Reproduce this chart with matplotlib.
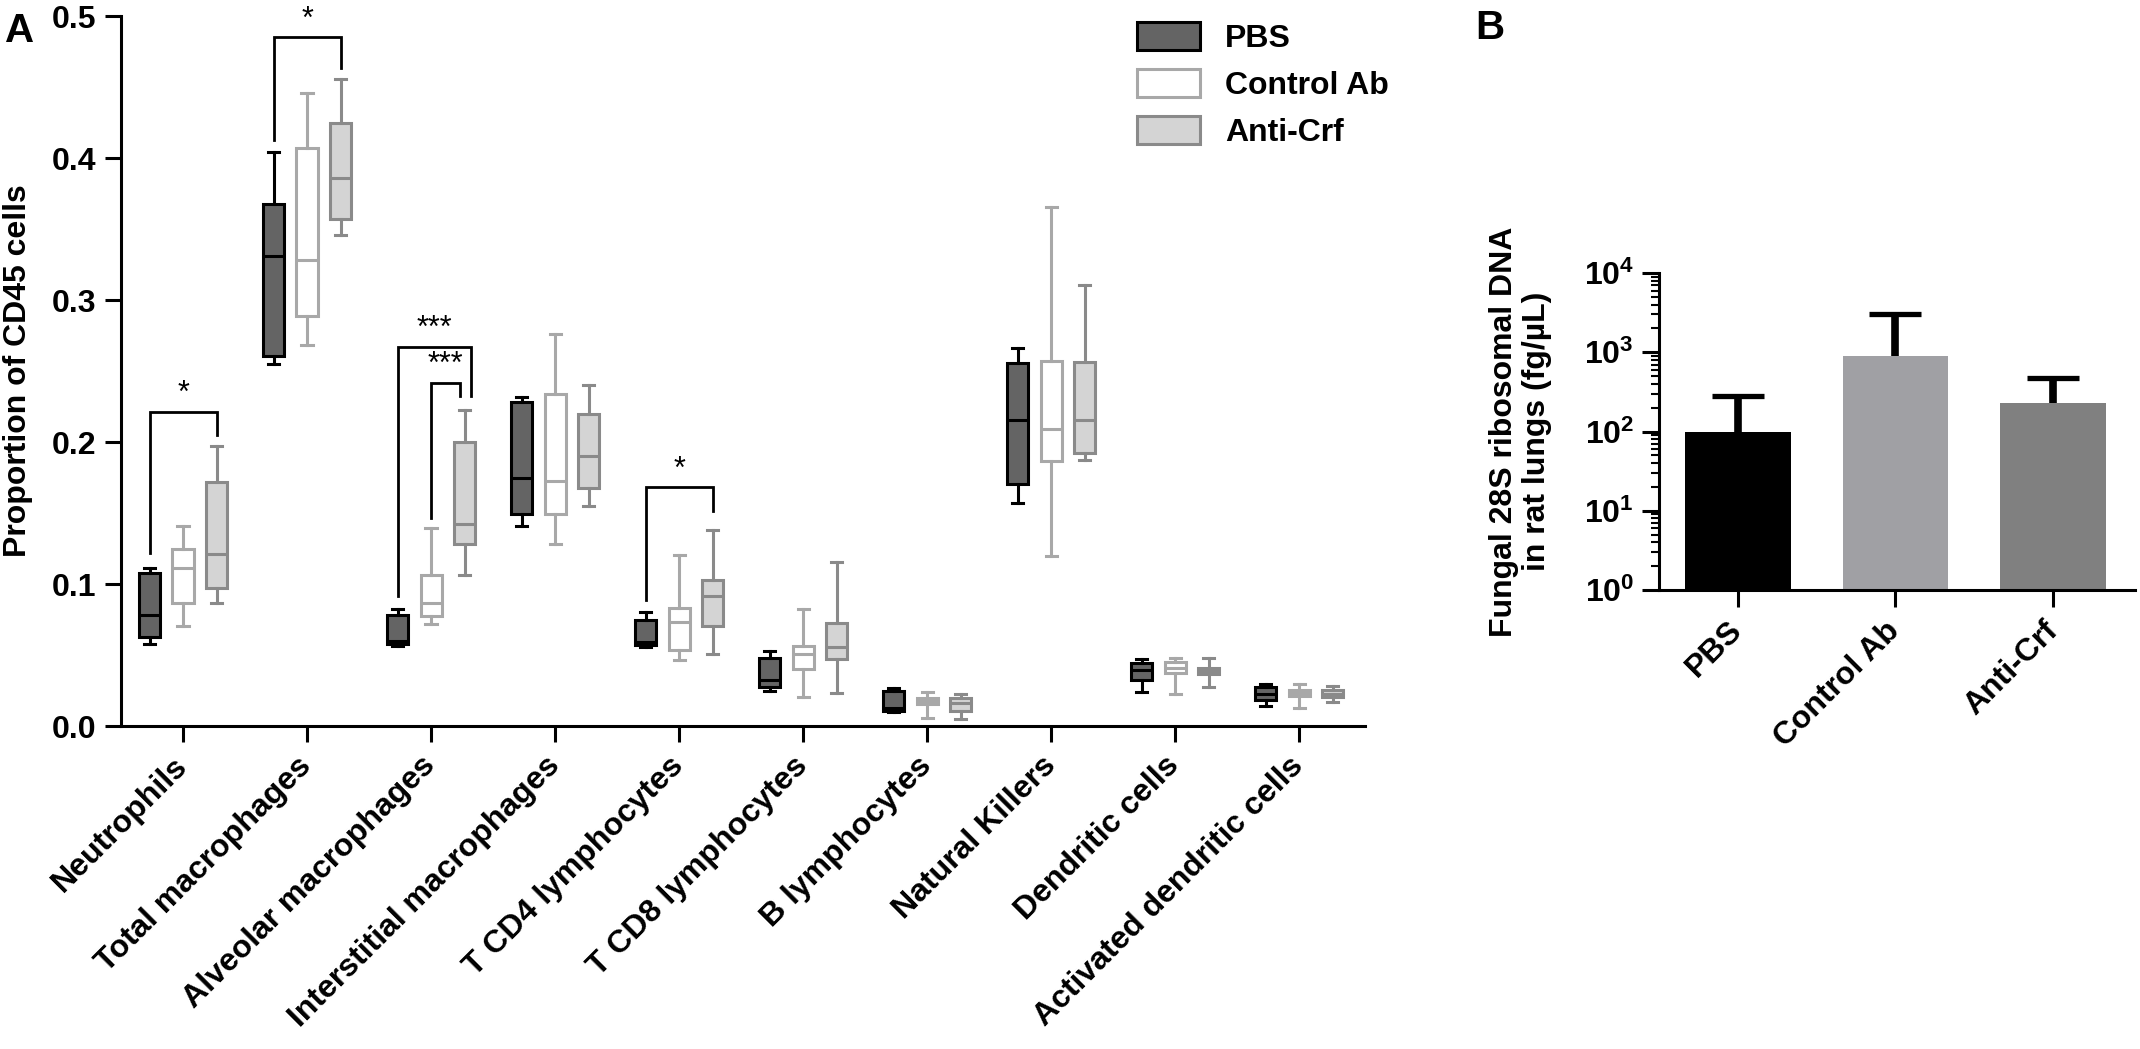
import matplotlib
matplotlib.use("Agg")
import matplotlib.pyplot as plt
from matplotlib.patches import Patch
from matplotlib.ticker import NullFormatter, LogLocator

plt.rcParams['font.family'] = ['Liberation Sans', 'DejaVu Sans']
plt.rcParams['font.weight'] = 'bold'
plt.rcParams['mathtext.fontset'] = 'custom'
plt.rcParams['mathtext.rm'] = 'Liberation Sans:bold'
plt.rcParams['mathtext.bf'] = 'Liberation Sans:bold'

# ---- panel A data: (whisker low, q1, median, q3, whisker high) ----
cell_types = ['Neutrophils', 'Total macrophages', 'Alveolar macrophages',
              'Interstitial macrophages', 'T CD4 lymphocytes', 'T CD8 lymphocytes',
              'B lymphocytes', 'Natural Killers', 'Dendritic cells',
              'Activated dendritic cells']
groups = ['PBS', 'Control Ab', 'Anti-Crf']

pbs_stats = [
    (0.058, 0.0625, 0.0783, 0.108, 0.111),
    (0.2547, 0.2604, 0.3313, 0.3676, 0.404),
    (0.0561, 0.0576, 0.060, 0.0783, 0.0827),
    (0.1411, 0.1495, 0.1747, 0.2285, 0.2317),
    (0.0556, 0.0570, 0.0593, 0.0746, 0.0806),
    (0.0249, 0.0277, 0.0324, 0.0481, 0.053),
    (0.0096, 0.0108, 0.0129, 0.0249, 0.0265),
    (0.157, 0.1705, 0.2156, 0.2555, 0.2665),
    (0.0239, 0.0321, 0.0394, 0.0446, 0.0472),
    (0.0141, 0.0183, 0.0228, 0.0272, 0.0293),
]
control_stats = [
    (0.0704, 0.0864, 0.1115, 0.1246, 0.1406),
    (0.2684, 0.2885, 0.3284, 0.4072, 0.4459),
    (0.0716, 0.0778, 0.0869, 0.1061, 0.1397),
    (0.1283, 0.1495, 0.1723, 0.2335, 0.2763),
    (0.0465, 0.0535, 0.0734, 0.0833, 0.1207),
    (0.0207, 0.0401, 0.0507, 0.0563, 0.0824),
    (0.0059, 0.0155, 0.0176, 0.0195, 0.0239),
    (0.1197, 0.1869, 0.2094, 0.2567, 0.3656),
    (0.0228, 0.037, 0.0411, 0.045, 0.0481),
    (0.0129, 0.0211, 0.0235, 0.0254, 0.0298),
]
anti_stats = [
    (0.0864, 0.0975, 0.121, 0.1715, 0.1975),
    (0.3455, 0.357, 0.3862, 0.4246, 0.4554),
    (0.1061, 0.1283, 0.1421, 0.1997, 0.2224),
    (0.1546, 0.1673, 0.190, 0.220, 0.240),
    (0.0507, 0.0707, 0.0915, 0.1028, 0.138),
    (0.023, 0.0472, 0.0559, 0.0723, 0.1153),
    (0.0049, 0.0106, 0.0164, 0.0195, 0.0225),
    (0.1875, 0.1925, 0.2158, 0.256, 0.3106),
    (0.0272, 0.0366, 0.039, 0.0411, 0.0476),
    (0.0167, 0.0204, 0.0228, 0.0254, 0.0282),
]

# significance brackets: (category, left group, right group, top, left end, right end, label)
brackets = [
    (0, 0, 2, 0.221, 0.122, 0.205, '*'),
    (1, 0, 2, 0.485, 0.413, 0.4635, '*'),
    (2, 0, 2, 0.267, 0.0913, 0.2322, '***'),
    (2, 1, 2, 0.2415, 0.1468, 0.2322, '***'),
    (4, 0, 2, 0.168, 0.0887, 0.1514, '*'),
]

# ---- panel B data ----
b_groups = ['PBS', 'Control Ab', 'Anti-Crf']
b_means = [100, 900, 228]
b_upper = [282, 3020, 480]
b_ticks = [1, 10, 100, 1000, 10000]
b_tick_labels = [r'$\mathbf{10^{0}}$', r'$\mathbf{10^{1}}$', r'$\mathbf{10^{2}}$',
                 r'$\mathbf{10^{3}}$', r'$\mathbf{10^{4}}$']

face_colors = ['#646464', '#ffffff', '#d4d4d4']
edge_colors = ['#000000', '#a8a8a8', '#8a8a8a']
b_colors = ['#000000', '#a0a0a4', '#808080']

W, H = 2140, 1049
fig = plt.figure(figsize=(W / 100, H / 100), dpi=100)

lw = 2.2
fs = 23

# ---------------- panel A ----------------
axA = fig.add_axes([121 / W, 1 - 726 / H, 1244 / W, 710 / H])
offsets = [-0.27, 0.0, 0.27]
for g, stats in enumerate([pbs_stats, control_stats, anti_stats]):
    bxp_stats = [dict(whislo=s[0], q1=s[1], med=s[2], q3=s[3], whishi=s[4])
                 for s in stats]
    pos = [i + offsets[g] for i in range(len(cell_types))]
    ec = edge_colors[g]
    axA.bxp(bxp_stats, positions=pos, widths=0.17, capwidths=0.09,
            showfliers=False, patch_artist=True,
            boxprops=dict(facecolor=face_colors[g], edgecolor=ec, linewidth=lw),
            medianprops=dict(color=ec, linewidth=lw),
            whiskerprops=dict(color=ec, linewidth=lw),
            capprops=dict(color=ec, linewidth=lw))

for cat, gl, gr, top, yl, yr, lab in brackets:
    xl = cat + offsets[gl]
    xr = cat + offsets[gr]
    if lab == '***' and gl == 0:
        xr += 0.05
    elif lab == '***':
        xr -= 0.04
    axA.plot([xl, xl, xr, xr], [yl, top, top, yr], color='black',
             linewidth=2.0, solid_joinstyle='miter')
    axA.text((xl + xr) / 2, top + 0.002, lab, ha='center', va='bottom',
             fontsize=22, fontweight='normal')

axA.set_xlim(-0.5, 9.53)
axA.set_ylim(0, 0.5)
axA.set_yticks([0, 0.1, 0.2, 0.3, 0.4, 0.5])
axA.set_yticklabels(['0.0', '0.1', '0.2', '0.3', '0.4', '0.5'])
axA.set_xticks(range(len(cell_types)))
axA.set_xticklabels(cell_types, rotation=45, ha='right', va='center',
                    rotation_mode='anchor')
for sp in ['top', 'right']:
    axA.spines[sp].set_visible(False)
for sp in ['left', 'bottom']:
    axA.spines[sp].set_linewidth(lw)
axA.tick_params(axis='both', direction='out', length=11.5, width=lw,
                labelsize=fs, pad=6)
axA.tick_params(axis='x', pad=14)
axA.set_ylabel('Proportion of CD45 cells', fontsize=fs, fontweight='bold')
axA.yaxis.set_label_coords((33 - 121) / 1244, 0.5)

handles = [Patch(facecolor=face_colors[g], edgecolor=edge_colors[g], linewidth=lw)
           for g in range(3)]
fig.legend(handles, groups, loc='upper left',
           bbox_to_anchor=(1137 / W, 1 - 22 / H), frameon=False,
           fontsize=fs, handlelength=1.97, handleheight=0.97,
           handletextpad=0.78, labelspacing=0.47, borderpad=0, borderaxespad=0)

# ---------------- panel B ----------------
axB = fig.add_axes([1659 / W, 1 - 590 / H, 476 / W, 317 / H])
xb = list(range(len(b_groups)))
err_up = [u - m for u, m in zip(b_upper, b_means)]
axB.bar(xb, b_means, width=0.67, color=b_colors, zorder=2)
eb = axB.errorbar(xb, b_means, yerr=[[0] * len(b_means), err_up], fmt='none',
                  ecolor='black', elinewidth=5.5, capsize=19, capthick=3.8,
                  zorder=1)
# only the upper cap is shown
eb[1][0].set_visible(False)
axB.set_yscale('log')
axB.set_ylim(1, 10000)
axB.set_xlim(-0.5, 2.52)
axB.set_yticks(b_ticks)
axB.set_yticklabels(b_tick_labels)
axB.yaxis.set_minor_locator(LogLocator(base=10, subs=range(2, 10), numticks=20))
axB.yaxis.set_minor_formatter(NullFormatter())
axB.set_xticks(xb)
axB.set_xticklabels(b_groups, rotation=45, ha='right', va='center',
                    rotation_mode='anchor')
for sp in ['top', 'right']:
    axB.spines[sp].set_visible(False)
for sp in ['left', 'bottom']:
    axB.spines[sp].set_linewidth(lw)
axB.tick_params(axis='both', which='major', direction='out', length=12,
                width=lw, labelsize=fs, pad=6)
axB.tick_params(axis='y', which='minor', direction='out', length=6, width=1.5)
axB.tick_params(axis='x', pad=14)
axB.set_ylabel('Fungal 28S ribosomal DNA\nin rat lungs (fg/µL)', fontsize=fs,
               fontweight='bold', linespacing=1.15)
axB.yaxis.set_label_coords((1552 - 1659) / 476, 0.5)

fig.text(5 / W, 1 - 42 / H, 'A', fontsize=29, fontweight='bold')
fig.text(1475 / W, 1 - 39 / H, 'B', fontsize=29, fontweight='bold')

fig.savefig('out.png', dpi=100)
